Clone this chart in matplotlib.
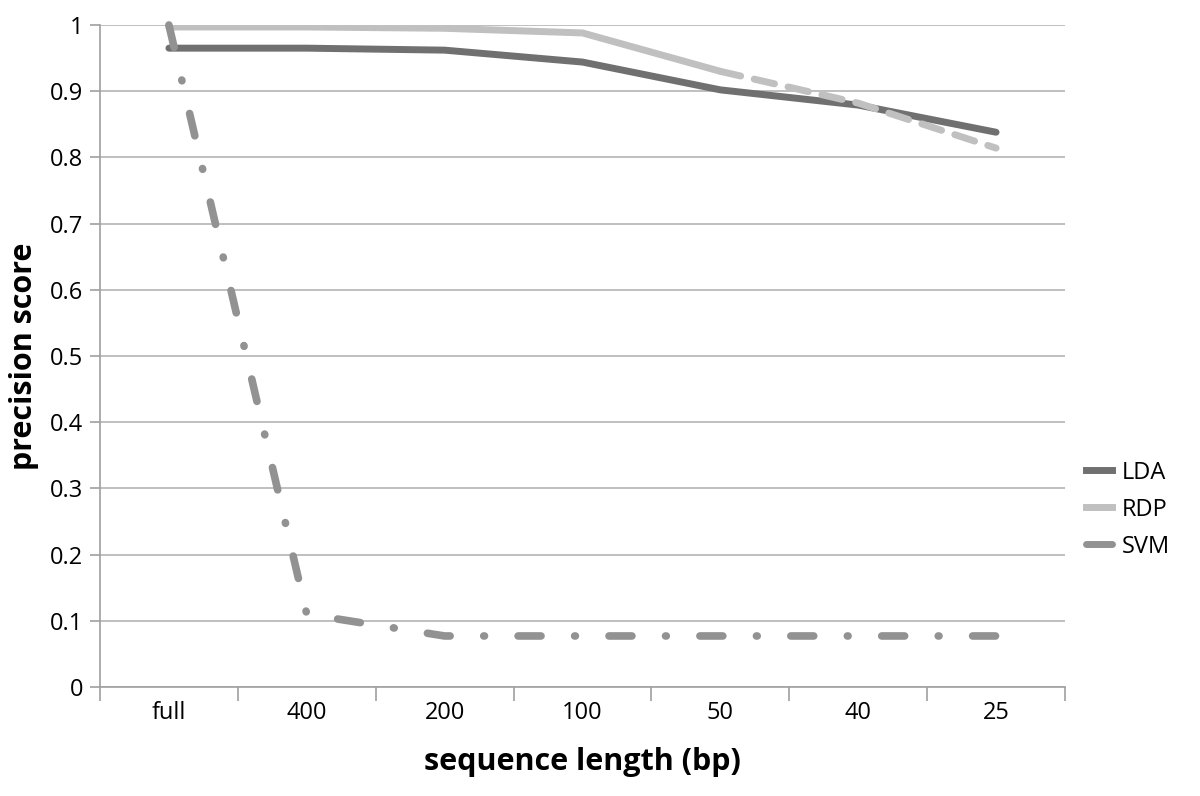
import matplotlib
matplotlib.use("Agg")
import matplotlib.pyplot as plt
from matplotlib.lines import Line2D

lengths = ["full", "400", "200", "100", "50", "40", "25"]
lda = [0.965, 0.965, 0.962, 0.944, 0.902, 0.879, 0.838]
rdp = [0.997, 0.997, 0.995, 0.988, 0.930, 0.882, 0.814]
svm = [1.0, 0.110, 0.077, 0.077, 0.077, 0.077, 0.077]

LDA_C = "#707070"
RDP_C = "#c0c0c0"
SVM_C = "#929292"

plt.rcParams['font.family'] = ['Open Sans', 'DejaVu Sans']

fig = plt.figure(figsize=(12, 7.96), dpi=100)
ax = fig.add_axes([0.0833, 0.137, 0.8042, 0.8316])

x = list(range(len(lengths)))
ax.plot(x, lda, color=LDA_C, lw=5, solid_capstyle='round', zorder=3)
ax.plot(x[:5], rdp[:5], color=RDP_C, lw=5, solid_capstyle='round', zorder=3)
ax.plot(x[4:], rdp[4:], color=RDP_C, lw=5, dashes=(3, 2), dash_capstyle='round', zorder=3)
ax.plot(x, svm, color=SVM_C, lw=5.5, dashes=(3.0, 4.4, 0.1, 4.4), dash_capstyle='round', zorder=4, clip_on=False)

ax.set_xlim(-0.5, 6.5)
ax.set_ylim(0, 1)
ax.set_yticks([i / 10 for i in range(11)])
ax.set_yticklabels(["0"] + ["0.%d" % i for i in range(1, 10)] + ["1"])
ax.yaxis.grid(True, color="#b4b4b4", lw=1.2)
ax.set_axisbelow(True)

ax.set_xticks([i - 0.5 for i in range(len(lengths) + 1)])
ax.set_xticklabels([])
ax.set_xticks(x, minor=True)
ax.set_xticklabels(lengths, minor=True)
ax.tick_params(axis='x', which='major', length=10, color="#a0a0a0", width=1.2)
ax.tick_params(axis='x', which='minor', length=0, pad=10, labelsize=17)
ax.tick_params(axis='y', length=7, color="#a0a0a0", width=1.2, labelsize=17, pad=5)

for s in ['top', 'right']:
    ax.spines[s].set_visible(False)
for s in ['left', 'bottom']:
    ax.spines[s].set_color("#a0a0a0")
    ax.spines[s].set_linewidth(1.2)

ax.set_xlabel("sequence length (bp)", fontsize=22, fontweight='bold', labelpad=16)
ax.set_ylabel("precision score", fontsize=22, fontweight='bold', labelpad=8)

handles = [Line2D([], [], color=LDA_C, lw=5),
           Line2D([], [], color=RDP_C, lw=5),
           Line2D([], [], color=SVM_C, lw=5, solid_capstyle='round')]
ax.legend(handles, ["LDA", "RDP", "SVM"], loc='center left', bbox_to_anchor=(1.0, 0.268),
          frameon=False, fontsize=17, handlelength=1.1, handletextpad=0.4, labelspacing=0.55)

fig.savefig("out.png", dpi=100)
